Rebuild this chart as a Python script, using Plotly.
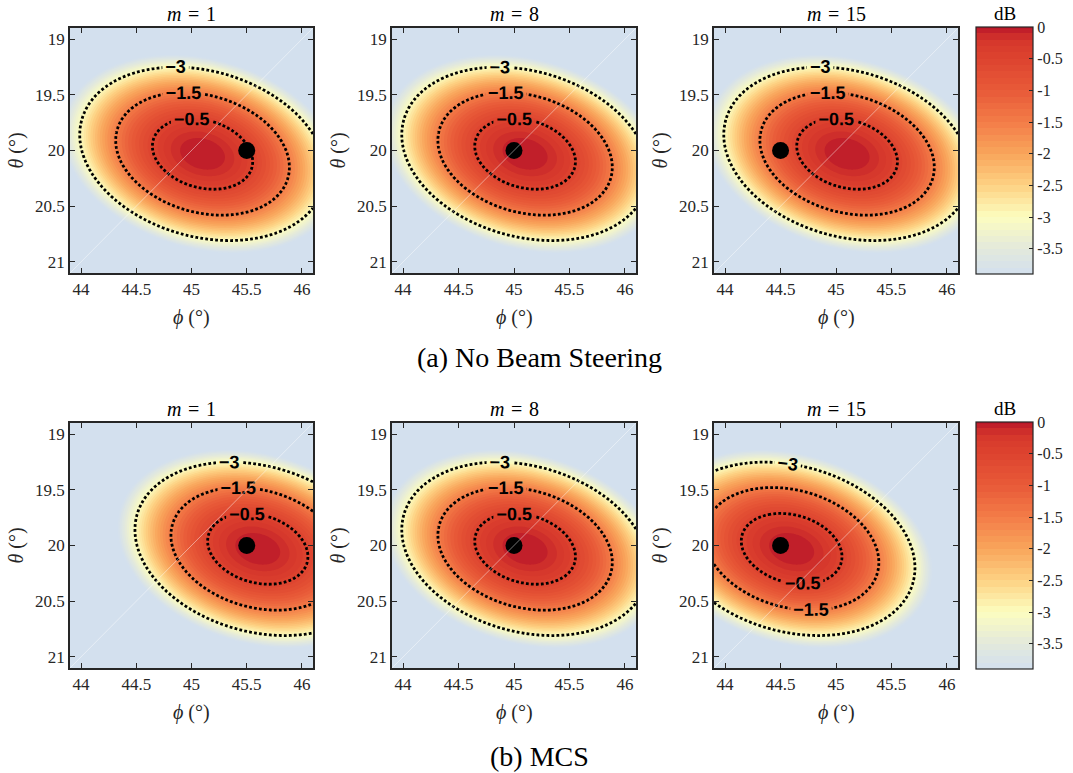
import numpy as np
import plotly.graph_objects as go

# ---------------- data ----------------
phi_grid = np.round(np.linspace(43.9, 46.1, 221), 4)      # phi (deg)
theta_grid = np.round(np.linspace(18.9, 21.1, 221), 4)    # theta (deg)
row_captions = ["(a) No Beam Steering", "(b) MCS"]
panel_titles = ["<i>m</i>\u2004=\u20041", "<i>m</i>\u2004=\u20048", "<i>m</i>\u2004=\u200415"]
user_phi = [45.5, 45.0, 44.5]          # black dot (user position)
user_theta = [20.0, 20.0, 20.0]
beam_phi = [[45.1, 45.1, 45.1],        # beam peak, no steering
            [45.6, 45.1, 44.6]]        # beam peak, MCS
beam_theta = [[20.03, 20.03, 20.03],
              [20.03, 20.03, 20.03]]
# beam roll-off (dB per deg^2): quadratic form a*u^2 + 2*b*u*v + c*v^2
shape_a, shape_b, shape_c = 2.55, -0.8, 5.2
contour_levels = [-3, -1.5, -0.5]
z_min, z_max = -3.9, 0.0
cb_tickvals = [0, -0.5, -1, -1.5, -2, -2.5, -3, -3.5]
cb_ticktext = ["0", "-0.5", "-1", "-1.5", "-2", "-2.5", "-3", "-3.5"]
x_ticks = [44, 44.5, 45, 45.5, 46]
y_ticks = [19, 19.5, 20, 20.5, 21]

# colour stops given at dB values
cs_levels = [-3.9, -3.5, -3.0, -2.5, -2.0, -1.5, -1.0, -0.5, -0.2, 0.0]
cs_colors = ["#d3e0ee", "#e3e9dc", "#fcfdbf", "#fdd283", "#f9a55b",
             "#f37c48", "#e85a38", "#dd432f", "#d5362b", "#ba182a"]

W, H = 1073, 773
col_px = [(70, 313), (392, 636), (714, 958)]
row_px = [(28, 273), (423, 668)]
cb_px = [(27, 274), (422, 669)]
cb_x0, cb_x1 = 976, 1033

serif = "Liberation Serif"
sans = "Liberation Sans"
axcol = "#262626"

colorscale = [[(lv - z_min) / (z_max - z_min), col]
              for lv, col in zip(cs_levels, cs_colors)]

fig = go.Figure()
layout = dict(width=W, height=H, margin=dict(l=0, r=0, t=0, b=0),
              paper_bgcolor="white", plot_bgcolor="white", showlegend=False)
annotations = []
shapes = []

PHI, THETA = np.meshgrid(phi_grid, theta_grid)

k = 0
for r in range(2):
    for c in range(3):
        k += 1
        xa = "x" if k == 1 else f"x{k}"
        ya = "y" if k == 1 else f"y{k}"
        u = PHI - beam_phi[r][c]
        v = THETA - beam_theta[r][c]
        z = -(shape_a * u ** 2 + 2 * shape_b * u * v + shape_c * v ** 2)
        z = np.clip(z, z_min - 0.05, 0)

        show = (c == 0)
        cb = None
        if show:
            y0, y1 = cb_px[r]
            cb = dict(x=cb_x0 / W, xanchor="left", xpad=0, ypad=0,
                      y=1 - (y0 + y1) / 2 / H, yanchor="middle",
                      len=(y1 - y0), lenmode="pixels",
                      thickness=cb_x1 - cb_x0, thicknessmode="pixels",
                      outlinecolor=axcol, outlinewidth=1.2,
                      tickvals=cb_tickvals, ticktext=cb_ticktext,
                      ticks="inside", ticklen=4, tickcolor=axcol,
                      tickfont=dict(family=serif, size=16, color=axcol))
        fig.add_trace(go.Contour(
            x=phi_grid, y=theta_grid, z=z, xaxis=xa, yaxis=ya,
            colorscale=colorscale, zmin=z_min, zmax=z_max,
            autocontour=False,
            contours=dict(start=z_min, end=z_max, size=0.1, coloring="fill",
                          showlines=False),
            line=dict(width=0), showscale=show, colorbar=cb,
            hoverinfo="skip"))
        for lev in contour_levels:
            fig.add_trace(go.Contour(
                x=phi_grid, y=theta_grid, z=z, xaxis=xa, yaxis=ya,
                autocontour=False, showscale=False,
                contours=dict(start=lev, end=lev, size=1, coloring="none",
                              showlabels=True,
                              labelfont=dict(family=sans, size=18,
                                             color="black", weight="bold")),
                line=dict(color="black", width=2.8, dash="2.8px,2.2px"),
                hoverinfo="skip"))
        fig.add_trace(go.Scatter(
            x=[user_phi[c]], y=[user_theta[c]], xaxis=xa, yaxis=ya,
            mode="markers", marker=dict(color="black", size=17),
            hoverinfo="skip"))

        x0, x1 = col_px[c]
        y0, y1 = row_px[r]
        common = dict(showgrid=False, zeroline=False, showline=True,
                      linecolor=axcol, linewidth=1.5, mirror="ticks",
                      ticks="inside", ticklen=5, tickwidth=1, tickcolor=axcol,
                      tickfont=dict(family=serif, size=17, color=axcol))
        layout["xaxis" if k == 1 else f"xaxis{k}"] = dict(
            domain=[x0 / W, x1 / W], anchor=ya, range=[43.9, 46.1],
            tickvals=x_ticks, ticktext=[f"{t:g}" for t in x_ticks], **common)
        layout["yaxis" if k == 1 else f"yaxis{k}"] = dict(
            domain=[1 - y1 / H, 1 - y0 / H], anchor=xa, range=[21.1, 18.9],
            tickvals=y_ticks, ticktext=[f"{t:g}" for t in y_ticks], **common)

        # faint rendering seam across panel
        shapes.append(dict(type="line", xref=f"{xa} domain", yref=f"{ya} domain",
                           x0=0, y0=0, x1=1, y1=1,
                           line=dict(color="rgba(255,255,255,0.45)", width=1)))

        cx = (x0 + x1) / 2 / W
        annotations.append(dict(text=panel_titles[c], x=cx, y=1 - (y0 - 14) / H,
                                xref="paper", yref="paper", showarrow=False,
                                xanchor="center", yanchor="middle",
                                font=dict(family=serif, size=20, color="black")))
        annotations.append(dict(text="<i>ϕ</i> (°)", x=cx, y=1 - (y1 + 44) / H,
                                xref="paper", yref="paper", showarrow=False,
                                xanchor="center", yanchor="middle",
                                font=dict(family=serif, size=20, color=axcol)))
        annotations.append(dict(text="<i>θ</i> (°)", x=(x0 - 54) / W,
                                y=1 - (y0 + y1) / 2 / H, textangle=-90,
                                xref="paper", yref="paper", showarrow=False,
                                xanchor="center", yanchor="middle",
                                font=dict(family=serif, size=20, color=axcol)))

for r in range(2):
    y0, y1 = cb_px[r]
    annotations.append(dict(text="dB", x=(cb_x0 + cb_x1) / 2 / W,
                            y=1 - (y0 - 14) / H, xref="paper", yref="paper",
                            showarrow=False, xanchor="center", yanchor="middle",
                            font=dict(family=serif, size=19, color="black")))
    shapes.append(dict(type="line", xref="paper", yref="paper",
                       x0=(cb_x0 + 2) / W, y0=1 - (y1 - 2) / H,
                       x1=(cb_x1 - 2) / W, y1=1 - (y0 + 2) / H,
                       line=dict(color="rgba(255,255,255,0.35)", width=1)))

annotations.append(dict(text=row_captions[0], x=539 / W, y=1 - 358 / H,
                        xref="paper", yref="paper", showarrow=False,
                        xanchor="center", yanchor="middle",
                        font=dict(family=serif, size=28, color="black")))
annotations.append(dict(text=row_captions[1], x=539 / W, y=1 - 756 / H,
                        xref="paper", yref="paper", showarrow=False,
                        xanchor="center", yanchor="middle",
                        font=dict(family=serif, size=28, color="black")))

layout["annotations"] = annotations
layout["shapes"] = shapes
fig.update_layout(**layout)
fig.write_html("out.html")
